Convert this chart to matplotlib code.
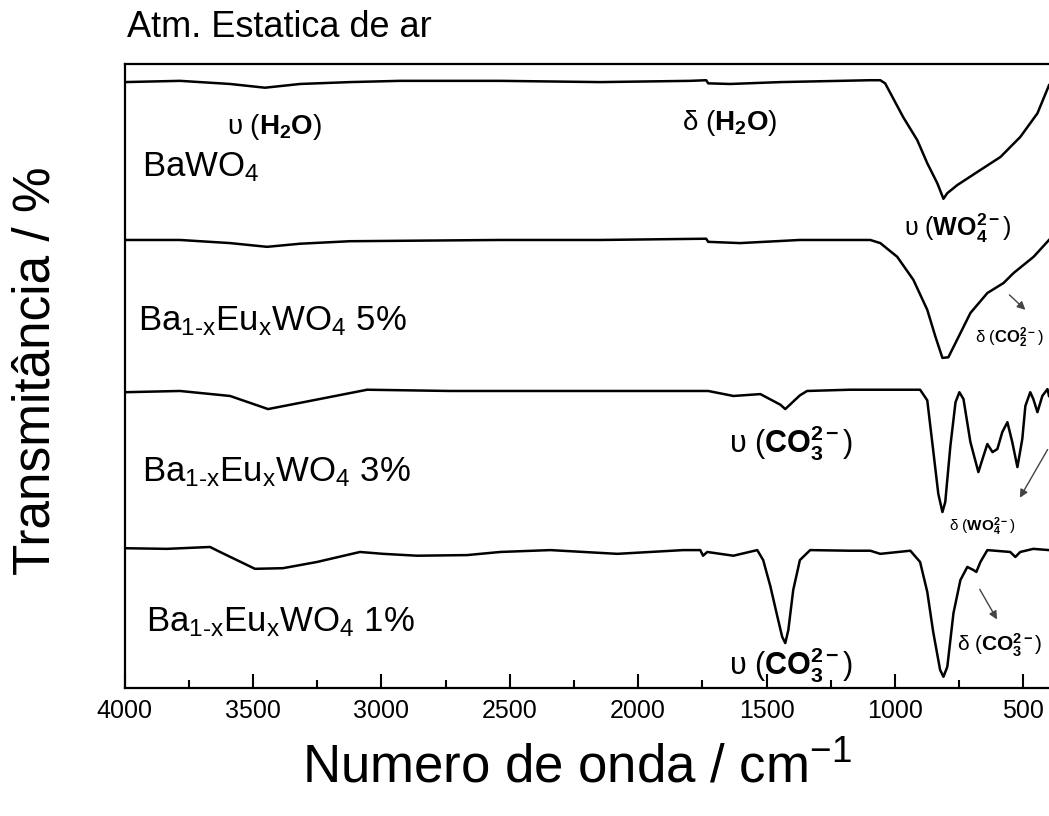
import matplotlib.pyplot as plt
from matplotlib.ticker import MultipleLocator

plt.rcParams['font.family'] = ['Liberation Sans', 'DejaVu Sans']
plt.rcParams['mathtext.fontset'] = 'custom'
plt.rcParams['mathtext.rm'] = 'Liberation Sans'
plt.rcParams['mathtext.it'] = 'Liberation Sans:italic'
plt.rcParams['mathtext.bf'] = 'Liberation Sans:bold'

# FTIR spectra (wavenumber in cm-1, stacked transmittance)
wn_bawo4 = [4000, 3784, 3589, 3453, 3316, 3122, 2927, 2537, 2148, 1797, 1735, 1727,
            1641, 1446, 1096, 1057, 1038, 968, 913, 874, 835, 811, 796, 757, 679,
            589, 512, 445, 400]
t_bawo4 = [97.1, 97.3, 96.8, 96.2, 96.8, 97.1, 97.3, 97.3, 97.1, 97.3, 97.4, 96.9,
           96.8, 97.1, 97.4, 97.4, 96.9, 91.5, 87.8, 84.1, 80.9, 78.4, 79.3, 80.6,
           82.7, 85.1, 88.3, 92.1, 96.6]

wn_eu5 = [4000, 3784, 3589, 3445, 3316, 3122, 2537, 2148, 1735, 1727, 1603, 1370,
          1096, 1057, 991, 928, 874, 843, 815, 792, 764, 706, 640, 577, 538, 460, 400]
t_eu5 = [71.8, 71.8, 71.3, 70.7, 71.2, 71.6, 71.8, 71.8, 72.0, 71.5, 71.3, 71.8,
         71.8, 71.3, 69.1, 65.4, 60.6, 56.4, 52.9, 53.0, 55.3, 60.1, 63.3, 64.9,
         66.5, 69.1, 71.8]

wn_eu3 = [4000, 3784, 3589, 3441, 3316, 3055, 2732, 2342, 1953, 1727, 1629, 1524,
          1446, 1427, 1370, 1342, 1175, 980, 902, 874, 851, 831, 815, 804, 784, 764,
          749, 733, 706, 675, 655, 640, 620, 601, 582, 562, 543, 523, 504, 492, 473,
          461, 445, 426, 406, 400]
t_eu3 = [47.4, 47.6, 46.8, 44.7, 45.7, 47.8, 47.6, 47.6, 47.6, 47.6, 46.8, 47.1,
         45.4, 44.7, 46.9, 47.6, 47.8, 47.8, 47.8, 46.1, 38.1, 31.1, 28.2, 29.8,
         38.8, 45.8, 47.4, 46.3, 39.4, 34.6, 37.2, 39.1, 37.8, 38.3, 41.0, 42.6,
         39.4, 35.4, 39.9, 45.2, 47.4, 46.3, 44.2, 46.8, 47.9, 46.8]

wn_eu1 = [4000, 3834, 3667, 3628, 3492, 3383, 3250, 3083, 2993, 2861, 2666, 2537,
          2342, 2081, 1824, 1758, 1747, 1731, 1629, 1536, 1513, 1485, 1458, 1439,
          1427, 1415, 1396, 1370, 1330, 1175, 1096, 1057, 940, 902, 874, 851, 824,
          811, 796, 772, 745, 718, 694, 683, 667, 640, 551, 531, 512, 461, 400]
t_eu1 = [22.4, 22.3, 22.6, 21.8, 19.1, 19.2, 20.2, 21.8, 21.5, 21.2, 21.3, 21.8,
         22.1, 21.5, 22.1, 22.1, 21.2, 21.8, 21.2, 22.1, 20.5, 16.3, 11.5, 8.2,
         7.2, 9.3, 15.7, 20.5, 22.1, 22.0, 22.0, 21.5, 22.0, 20.2, 15.4, 9.0, 2.9,
         1.8, 3.4, 12.0, 17.3, 19.4, 18.9, 18.6, 20.2, 22.1, 21.8, 21.0, 21.8,
         22.3, 22.1]

samples = [r'BaWO$_\mathregular{4}$',
           r'Ba$_\mathregular{1\text{-}x}$Eu$_\mathregular{x}$WO$_\mathregular{4}$ 5%',
           r'Ba$_\mathregular{1\text{-}x}$Eu$_\mathregular{x}$WO$_\mathregular{4}$ 3%',
           r'Ba$_\mathregular{1\text{-}x}$Eu$_\mathregular{x}$WO$_\mathregular{4}$ 1%']
sample_pos = [(3932, 83.5), (3947, 58.8), (3932, 34.6), (3916, 10.5)]

fig = plt.figure(figsize=(10.49, 8.16), dpi=100)
ax = fig.add_axes([124.5 / 1049, 128 / 816, 924.5 / 1049, 624 / 816])

for wn, t in [(wn_bawo4, t_bawo4), (wn_eu5, t_eu5), (wn_eu3, t_eu3), (wn_eu1, t_eu1)]:
    ax.plot(wn, t, color='black', lw=1.8, solid_joinstyle='round')

for lab, (x, y) in zip(samples, sample_pos):
    ax.text(x, y, lab, fontsize=25, ha='left', va='center')

# band assignments
ax.text(3414, 89.9, r'υ ($\mathbf{H_2O}$)', fontsize=20, ha='center', va='center')
ax.text(1645, 90.5, r'δ ($\mathbf{H_2O}$)', fontsize=20, ha='center', va='center')
ax.text(757, 73.7, r'υ ($\mathbf{WO_4^{2-}}$)', fontsize=18, ha='center', va='center')
ax.text(690, 56.1, r'δ ($\mathbf{CO_2^{2-}}$)', fontsize=12, ha='left', va='center')
ax.text(1404, 39.3, r'υ ($\mathbf{CO_3^{2-}}$)', fontsize=22, ha='center', va='center')
ax.text(659, 25.8, r'δ ($\mathbf{WO_4^{2-}}$)', fontsize=11, ha='center', va='center')
ax.text(1404, 3.7, r'υ ($\mathbf{CO_3^{2-}}$)', fontsize=22, ha='center', va='center')
ax.text(760, 6.9, r'δ ($\mathbf{CO_3^{2-}}$)', fontsize=15, ha='left', va='center')

arrow = dict(arrowstyle='-|>', color='#444444', lw=1, mutation_scale=12)
ax.annotate('', xy=(484, 60.3), xytext=(562, 63.3), arrowprops=arrow)
ax.annotate('', xy=(519, 30.1), xytext=(400, 38.6), arrowprops=arrow)
ax.annotate('', xy=(597, 10.6), xytext=(675, 16.2), arrowprops=arrow)

ax.set_xlim(4000, 400)
ax.set_ylim(0, 100)
ax.xaxis.set_major_locator(MultipleLocator(500))
ax.xaxis.set_minor_locator(MultipleLocator(250))
ax.set_yticks([])
ax.tick_params(axis='x', which='major', direction='in', length=10, width=1.5,
               labelsize=18, pad=8)
ax.tick_params(axis='x', which='minor', direction='in', length=6, width=1.5)
for s in ['left', 'bottom', 'top']:
    ax.spines[s].set_linewidth(1.6)
ax.spines['right'].set_visible(False)

fig.text(127 / 1049, 0.966, 'Atm. Estatica de ar', fontsize=26, ha='left', va='center')
fig.text(0.034, 0.546, 'Transmitância / %', fontsize=37, rotation=90,
         ha='center', va='center')
fig.text(0.55, 0.058, 'Numero de onda / cm$^{-1}$', fontsize=38,
         ha='center', va='center')

fig.savefig('out.png', dpi=100)
